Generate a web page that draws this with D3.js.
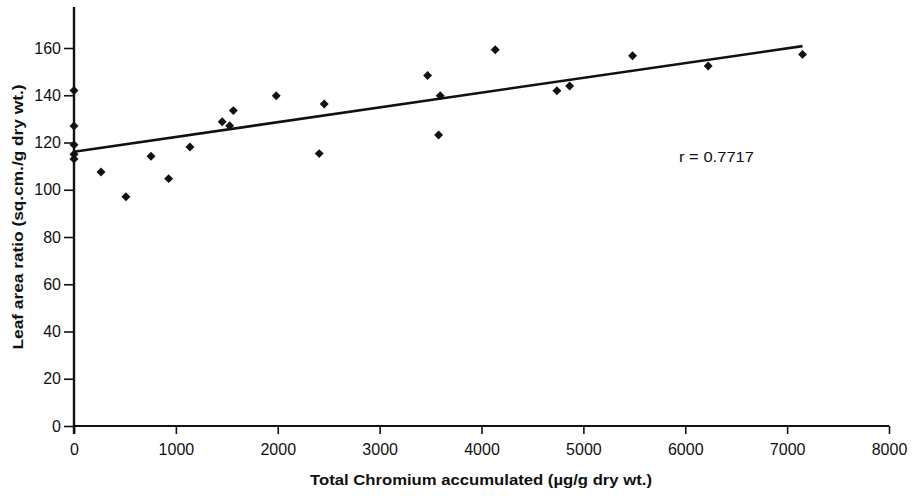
<!DOCTYPE html>
<html>
<head>
<meta charset="utf-8">
<script src="https://cdn.jsdelivr.net/npm/d3@7"></script>
<style>
  body { margin: 0; background: #fff; }
  text { font-family: "Liberation Sans", Arial, sans-serif; fill: #111; }
</style>
</head>
<body>
<div id="chart"></div>
<script>
// Chromium accumulated (x) vs leaf area ratio (y)
var chromium = [0, 0, 0, 0, 0, 265, 510, 756, 929, 1138, 1455, 1528, 1564, 1985, 2407, 2456,
    3471, 3579, 3595, 4135, 4740, 4865, 5483, 6225, 7151];
var leafRatio = [142, 127, 119, 115, 113, 107.5, 97, 114.2, 104.7, 118.1, 128.8, 127.1, 133.5, 139.8, 115.3, 136.3,
    148.4, 123.2, 139.8, 159.3, 141.9, 143.9, 156.7, 152.4, 157.3];

// fitted line as shown
var fitIntercept = 116.1,
    fitSlope = 0.00625;
var rLabel = "r = 0.7717";

var xTicks = [0, 1000, 2000, 3000, 4000, 5000, 6000, 7000, 8000];
var yTicks = [0, 20, 40, 60, 80, 100, 120, 140, 160];

var width = 915,
    height = 496;

var svg = d3.select('#chart').append('svg')
    .attr('width', width)
    .attr('height', height);

var x = d3.scaleLinear().domain([0, 8000]).range([74, 889]);
var y = d3.scaleLinear().domain([0, 160]).range([426, 48]);

// axes
var xAxis = d3.axisBottom(x).tickValues(xTicks).tickFormat(d3.format('d'))
    .tickSize(8).tickSizeOuter(0).tickPadding(10);
var yAxis = d3.axisLeft(y).tickValues(yTicks).tickFormat(d3.format('d'))
    .tickSize(10).tickSizeOuter(0).tickPadding(3);

var gx = svg.append('g')
    .attr('transform', 'translate(0,' + y(0) + ')')
    .call(xAxis);
var gy = svg.append('g')
    .attr('transform', 'translate(' + x(0) + ',0)')
    .call(yAxis);

[gx, gy].forEach(function (g) {
    g.select('.domain').remove();
    g.selectAll('line').attr('stroke', '#111').attr('stroke-width', 1.6);
    g.selectAll('text')
        .style('font-size', '16px')
        .style('font-family', '"Liberation Sans", Arial, sans-serif')
        .attr('fill', '#111');
});

// axis lines (y runs a little above the top tick)
svg.append('line')
    .attr('x1', x(0)).attr('x2', x(8000))
    .attr('y1', y(0)).attr('y2', y(0))
    .attr('stroke', '#111').attr('stroke-width', 2.2);
svg.append('line')
    .attr('x1', x(0)).attr('x2', x(0))
    .attr('y1', y(0) + 8).attr('y2', 7)
    .attr('stroke', '#111').attr('stroke-width', 2.4);

// regression line
var xMax = d3.max(chromium);
svg.append('line')
    .attr('x1', x(0)).attr('y1', y(fitIntercept))
    .attr('x2', x(xMax)).attr('y2', y(fitIntercept + fitSlope * xMax))
    .attr('stroke', '#111').attr('stroke-width', 2.6);

// points
var pts = chromium.map(function (d, i) { return [d, leafRatio[i]]; });
svg.selectAll('path.pt')
    .data(pts)
    .enter()
    .append('path')
    .attr('class', 'pt')
    .attr('d', d3.symbol().type(d3.symbolSquare).size(40))
    .attr('transform', function (d) {
        return 'translate(' + x(d[0]) + ',' + y(d[1]) + ') rotate(45)';
    })
    .attr('fill', '#111');

// r annotation
svg.append('text')
    .attr('x', 679)
    .attr('y', 162)
    .attr('textLength', 75)
    .attr('lengthAdjust', 'spacingAndGlyphs')
    .style('font-size', '15px')
    .text(rLabel);

// axis titles
svg.append('text')
    .attr('x', 481)
    .attr('y', 485)
    .attr('text-anchor', 'middle')
    .attr('textLength', 342)
    .attr('lengthAdjust', 'spacingAndGlyphs')
    .style('font-size', '15.5px')
    .style('font-weight', 'bold')
    .text('Total Chromium accumulated (\u00b5g/g dry wt.)');

svg.append('text')
    .attr('transform', 'translate(23,217) rotate(-90)')
    .attr('text-anchor', 'middle')
    .attr('textLength', 265)
    .attr('lengthAdjust', 'spacingAndGlyphs')
    .style('font-size', '15px')
    .style('font-weight', 'bold')
    .text('Leaf area ratio (sq.cm./g dry wt.)');
</script>
</body>
</html>
